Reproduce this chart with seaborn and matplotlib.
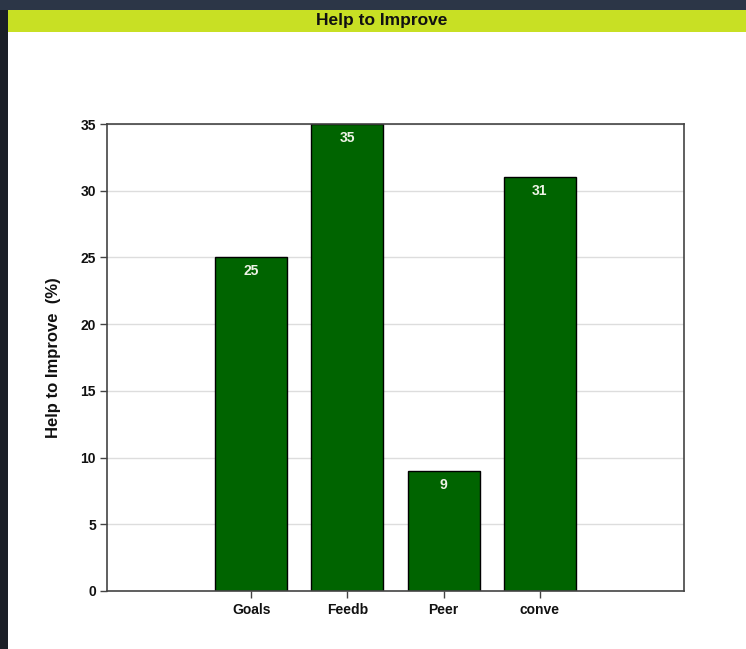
import matplotlib
matplotlib.use("Agg")
import matplotlib.pyplot as plt
from matplotlib.patches import Rectangle
import seaborn as sns
import pandas as pd

categories = ["Goals", "Feedb", "Peer", "conve"]
values = [25, 35, 9, 31]
y_ticks = [0, 5, 10, 15, 20, 25, 30, 35]
title = "Help to Improve"
y_label = "Help to Improve  (%)"

sns.set_theme(style="white")
plt.rcParams['font.family'] = ['Liberation Sans', 'DejaVu Sans']

W, H = 746, 649
fig = plt.figure(figsize=(W / 100, H / 100), dpi=100)
fig.patch.set_facecolor("white")

# dark frame (left and top)
fig.patches.append(Rectangle((0, 0), 8 / W, 1, transform=fig.transFigure,
                             facecolor="#1b1f27", edgecolor="none", zorder=0))
fig.patches.append(Rectangle((0, 1 - 10 / H), 1, 10 / H, transform=fig.transFigure,
                             facecolor="#2c3647", edgecolor="none", zorder=0))
# title bar
fig.patches.append(Rectangle((8 / W, 1 - 32 / H), 1 - 8 / W, 22 / H, transform=fig.transFigure,
                             facecolor="#c8e024", edgecolor="none", zorder=0))
fig.text(382 / W, 1 - 20 / H, title, ha="center", va="center",
         fontsize=12.5, fontweight="bold", color="#111111")

ax = fig.add_axes([107 / W, 1 - 591 / H, (684 - 107) / W, (591 - 124) / H])
df = pd.DataFrame({"cat": categories, "val": values})
sns.barplot(data=df, x="cat", y="val", color="#006400", saturation=1,
            edgecolor="black", linewidth=1.0, width=0.75, ax=ax, zorder=2)

ax.set_xlim(-1.5, 4.5)
ax.set_ylim(0, 35)
ax.set_yticks(y_ticks)
ax.yaxis.grid(True, color="#dddddd", linewidth=1.0, zorder=0)
ax.set_axisbelow(True)
ax.set_xlabel("")
ax.set_ylabel(y_label, fontsize=12, fontweight="bold", color="#111111", labelpad=14)

for s in ax.spines.values():
    s.set_color("#444444")
    s.set_linewidth(1.2)
    s.set_visible(True)

ax.tick_params(axis="both", direction="out", length=5, width=1, color="#444444",
               labelsize=10, labelcolor="#111111", pad=3)
for lab in ax.get_xticklabels() + ax.get_yticklabels():
    lab.set_fontweight("bold")
ax.tick_params(axis="x", pad=4)
ax.tick_params(axis="x", which="both", bottom=True)
ax.tick_params(axis="y", which="both", left=True)

ax.bar_label(ax.containers[0], labels=[str(v) for v in values], padding=-15,
             color="#eef3e6", fontsize=10, fontweight="bold")

fig.savefig("out.png", dpi=100)
